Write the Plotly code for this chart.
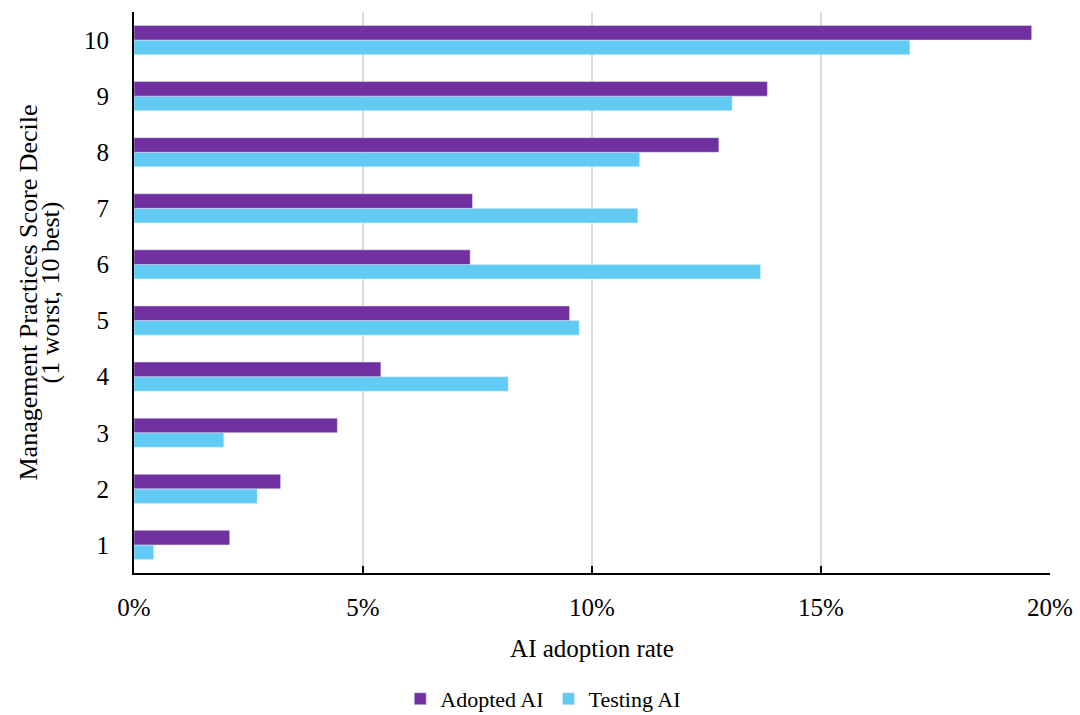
import plotly.graph_objects as go

# Management practices score decile (1 = worst, 10 = best)
deciles = [1, 2, 3, 4, 5, 6, 7, 8, 9, 10]
# AI adoption rates, in percent
adopted_ai = [2.09, 3.20, 4.44, 5.39, 9.51, 7.34, 7.39, 12.77, 13.83, 19.60]
testing_ai = [0.43, 2.69, 1.96, 8.17, 9.72, 13.68, 11.00, 11.04, 13.06, 16.94]
x_ticks = [0, 5, 10, 15, 20]

FONT = "Liberation Serif"
PURPLE = "#7030A0"
CYAN = "#61CBF3"

fig = go.Figure()
# Testing first so it sits below Adopted within each decile group
fig.add_trace(go.Bar(
    y=deciles, x=[v / 100 for v in testing_ai], orientation="h",
    name="Testing AI", marker=dict(color=CYAN), legendrank=2,
))
fig.add_trace(go.Bar(
    y=deciles, x=[v / 100 for v in adopted_ai], orientation="h",
    name="Adopted AI", marker=dict(color=PURPLE), legendrank=1,
))

fig.update_layout(
    width=1080, height=715,
    margin=dict(l=134, r=30, t=12, b=142, autoexpand=False),
    paper_bgcolor="white", plot_bgcolor="white",
    barmode="group", bargap=0.48, bargroupgap=0,
    font=dict(family=FONT, color="black", size=25),
    showlegend=True,
    legend=dict(
        orientation="h", xref="container", yref="container",
        x=0.503, xanchor="center",
        y=(715 - 699) / 715, yanchor="middle", traceorder="normal",
        font=dict(family=FONT, size=22, color="black"),
    ),
)

fig.update_xaxes(
    range=[0, 0.2], tickvals=[t / 100 for t in x_ticks], tickformat=".0%",
    showgrid=True, gridcolor="#d9d9d9", gridwidth=2,
    showline=True, linecolor="black", linewidth=2,
    ticks="inside", ticklen=7, tickwidth=2, tickcolor="black",
    ticklabelstandoff=11, zeroline=False, automargin=False,
    tickfont=dict(family=FONT, size=25),
    title=dict(text="AI adoption rate", standoff=19,
               font=dict(family=FONT, size=25)),
)

fig.update_yaxes(
    range=[0.5, 10.5], tickvals=deciles,
    showgrid=False, zeroline=False,
    showline=True, linecolor="black", linewidth=2,
    ticks="", ticklabelstandoff=18, automargin=False,
    tickfont=dict(family=FONT, size=25),
)

# Two-line vertical axis title
fig.add_annotation(
    text="Management Practices Score Decile", textangle=-90,
    xref="paper", yref="paper", x=(28 - 134) / 916, y=0.5,
    xanchor="center", yanchor="middle", showarrow=False,
    font=dict(family=FONT, size=26, color="black"),
)
fig.add_annotation(
    text="(1 worst, 10 best)", textangle=-90,
    xref="paper", yref="paper", x=(50 - 134) / 916, y=0.5,
    xanchor="center", yanchor="middle", showarrow=False,
    font=dict(family=FONT, size=26, color="black"),
)

fig.write_html("out.html")
